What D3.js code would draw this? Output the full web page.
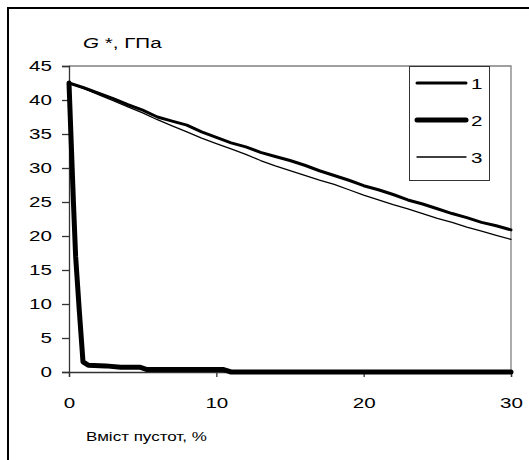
<html><head>
<meta charset="UTF-8">
<title>G* vs void content</title>
<style>
  body { margin: 0; padding: 0; background: #fff; }
  svg { display: block; font-family: "Liberation Sans", Arial, sans-serif; }
</style>
</head>
<body>
<div id="chart"></div>
<script src="https://d3js.org/d3.v7.min.js"></script>
<script>
  // values
  const xTicks = [0, 10, 20, 30];
  const yTicks = [0, 5, 10, 15, 20, 25, 30, 35, 40, 45];

  const x1 = d3.range(0, 31);
  const y1 = [42.5, 41.8, 41.0, 40.2, 39.3, 38.5, 37.5, 36.9, 36.3, 35.3, 34.5,
              33.7, 33.1, 32.3, 31.7, 31.1, 30.4, 29.6, 28.9, 28.2, 27.4,
              26.8, 26.1, 25.3, 24.7, 24.0, 23.3, 22.7, 22.0, 21.5, 20.9];

  const x2 = [0, 0.3, 0.45, 0.7, 0.95, 1.3, 2.5, 3.5, 4.8, 5.3, 10.5, 11, 30];
  const y2 = [42.5, 25, 17, 9, 1.5, 1.0, 0.9, 0.7, 0.7, 0.35, 0.35, 0, 0];

  const x3 = d3.range(0, 31);
  const y3 = [42.5, 41.7, 40.8, 39.9, 39.0, 38.1, 37.1, 36.2, 35.3, 34.4, 33.6,
              32.8, 32.0, 31.1, 30.3, 29.6, 28.9, 28.2, 27.6, 26.8, 26.0,
              25.3, 24.6, 24.0, 23.3, 22.6, 22.0, 21.3, 20.7, 20.1, 19.5];

  const seriesNames = ["1", "2", "3"];
  const widths = [3, 5, 1.3];

  const W = 529, H = 460;
  const sx = 1.33; // the original picture is stretched sideways
  const svg = d3.select("#chart").append("svg")
    .attr("width", W).attr("height", H);

  // outer frame (only top and left visible)
  svg.append("path")
    .attr("d", "M8,460 L8,8 L529,8")
    .attr("fill", "none").attr("stroke", "#000").attr("stroke-width", 2);

  const pLeft = 69, pRight = 511, pTop = 66, pBottom = 372;
  const x = d3.scaleLinear().domain([0, 30]).range([pLeft, pRight]);
  const y = d3.scaleLinear().domain([0, 45]).range([pBottom, pTop]);

  // plot area border top/right
  svg.append("path")
    .attr("d", `M${pLeft},${pTop} L${pRight},${pTop} L${pRight},${pBottom}`)
    .attr("fill", "none").attr("stroke", "#808080").attr("stroke-width", 1.3);

  const yAxis = svg.append("g")
    .attr("transform", `translate(${pLeft},0)`)
    .call(d3.axisLeft(y).tickValues(yTicks).tickSize(7).tickPadding(10));
  const xAxis = svg.append("g")
    .attr("transform", `translate(0,${pBottom})`)
    .call(d3.axisBottom(x).tickValues(xTicks).tickSize(5).tickPadding(20));

  [xAxis, yAxis].forEach(g => {
    g.select(".domain").attr("stroke", "#333").attr("stroke-width", 1.3);
    g.selectAll(".tick line").attr("stroke", "#333").attr("stroke-width", 1.3);
    g.selectAll("text").attr("font-size", 15.5).attr("fill", "#000")
      .attr("font-family", "'Liberation Sans', Arial, sans-serif")
      .attr("transform", `scale(${sx},1)`);
  });
  yAxis.selectAll("text").attr("x", -17 / sx);

  const line = d3.line().x(d => x(d[0])).y(d => y(d[1]));
  const data = [d3.zip(x1, y1), d3.zip(x2, y2), d3.zip(x3, y3)];

  data.forEach((pts, i) => {
    svg.append("path")
      .datum(pts)
      .attr("d", line)
      .attr("fill", "none")
      .attr("stroke", "#000")
      .attr("stroke-width", widths[i])
      .attr("stroke-linejoin", "round")
      .attr("stroke-linecap", "round");
  });

  function label(px, py, size) {
    return svg.append("text")
      .attr("transform", `translate(${px},${py}) scale(${sx},1)`)
      .attr("font-size", size);
  }

  // title
  const title = label(83, 48, 15.5);
  title.append("tspan").attr("font-style", "italic").text("G");
  title.append("tspan").text(" *, ГПа");

  // x label
  label(86, 441, 12.8).text("Вміст пустот, %");

  // legend
  const lg = svg.append("g");
  lg.append("rect")
    .attr("x", 409.5).attr("y", 66.5).attr("width", 80).attr("height", 114)
    .attr("fill", "#fff").attr("stroke", "#333").attr("stroke-width", 1);
  seriesNames.forEach((name, i) => {
    const yy = 83 + i * 37;
    lg.append("line")
      .attr("x1", 417).attr("x2", 466).attr("y1", yy).attr("y2", yy)
      .attr("stroke", "#000").attr("stroke-width", widths[i])
      .attr("stroke-linecap", "round");
    label(471, yy + 6, 15.5).text(name);
  });
</script>
</body></html>
